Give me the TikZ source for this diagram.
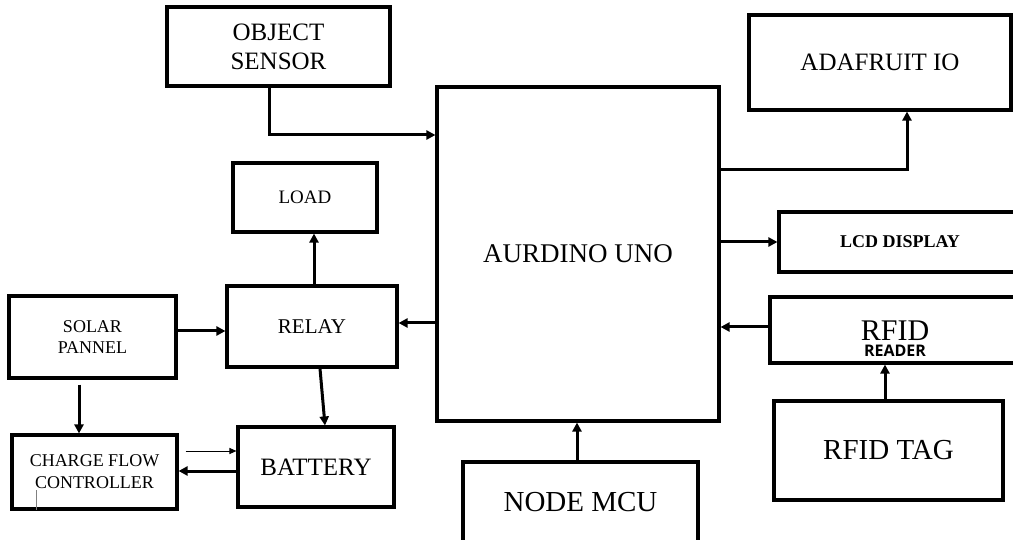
\documentclass[tikz,border=0pt]{standalone}
\usepackage{fontspec}
\setmainfont{Liberation Serif}
\newfontfamily\readerfont{Open Sans}
\usetikzlibrary{arrows.meta}
\begin{document}
\begin{tikzpicture}[x=1pt,y=-1pt,
  box/.style={draw, line width=3.1pt, rectangle, inner sep=0pt, align=center},
  arr/.style={line width=3pt, -{Triangle[length=9pt,width=9pt]}},
  thinarr/.style={line width=1pt, -{Triangle[length=7pt,width=6pt]}},
]
\useasboundingbox (0,0) rectangle (1013,540);
\clip (0,0) rectangle (1013,540);

% boxes
\node[box, minimum width=223pt, minimum height=79pt, font=\fontsize{25}{29}\selectfont] (obj) at (278.5,46.5) {OBJECT\\SENSOR};
\node[box, minimum width=282pt, minimum height=334pt, font=\fontsize{27}{30}\selectfont] (ard) at (578,254) {AURDINO UNO};
\node[box, minimum width=262pt, minimum height=95pt, font=\fontsize{25}{29}\selectfont] (ada) at (880,62.5) {ADAFRUIT IO};
\node[box, minimum width=144pt, minimum height=69pt, font=\fontsize{19}{22}\selectfont] (load) at (305,197.5) {LOAD};
\node[box, minimum width=170pt, minimum height=81pt, font=\fontsize{21}{24}\selectfont] (relay) at (312,326.5) {RELAY};
\node[box, minimum width=167pt, minimum height=82pt, font=\fontsize{18}{21}\selectfont] (solar) at (92.5,337) {SOLAR\\PANNEL};
\node[box, minimum width=165pt, minimum height=74pt, font=\fontsize{18}{22}\selectfont] (cfc) at (94.5,472) {CHARGE FLOW\\CONTROLLER};
\node[box, minimum width=156pt, minimum height=80pt, font=\fontsize{25}{29}\selectfont] (bat) at (316,467) {BATTERY};
\node[box, minimum width=242pt, minimum height=60pt, font=\fontsize{18}{21}\selectfont\bfseries] (lcd) at (900,242) {LCD DISPLAY};
\node[box, minimum width=250pt, minimum height=66pt] (rdr) at (895,330) {};
\node[anchor=base, inner sep=0pt, font=\fontsize{30}{30}\selectfont] (rfidt) at (895,341) {RFID};
\node[anchor=base, inner sep=0pt, font=\readerfont\bfseries\fontsize{16}{16}\selectfont] (readert) at (895,356) {READER};
\node[box, minimum width=229pt, minimum height=99pt, font=\fontsize{29}{32}\selectfont] (tag) at (888.5,450.5) {RFID TAG};
\node[box, minimum width=235pt, minimum height=80pt, font=\fontsize{29}{32}\selectfont] (nmcu) at (580.5,502) {NODE MCU};

% connectors
\draw[arr] ([xshift=-9.5pt]obj.south) |- (ard.west |- 0,135);
\draw[arr] (ard.east |- 0,170) -| (ada.south -| 907,0);
\draw[arr] (ard.east |- lcd.west) -- (lcd.west);
\draw[arr] (rdr.west |- 0,327) -- (ard.east |- 0,327);
\draw[arr] (tag.north -| 885,0) -- (rdr.south -| 885,0);
\draw[arr] (nmcu.north -| 577,0) -- (ard.south -| 577,0);
\draw[arr] (ard.west |- 0,323) -- (relay.east |- 0,323);
\draw[arr] (relay.north -| 314,0) -- (load.south -| 314,0);
\draw[arr] (solar.east |- 0,331) -- (relay.west |- 0,331);
\draw[arr] (relay.south -| 320,0) -- (bat.north -| 325,0);
\draw[arr, shorten <=5pt] (solar.south -| 79,0) -- (cfc.north -| 79,0);
\draw[thinarr, shorten <=7pt] (cfc.east |- 0,451) -- (bat.west |- 0,451);
\draw[arr] (bat.west |- 0,471) -- (cfc.east |- 0,471);

% small cursor mark
\draw[line width=0.6pt, gray] (36,490) -- (36,510);
\end{tikzpicture}
\end{document}
